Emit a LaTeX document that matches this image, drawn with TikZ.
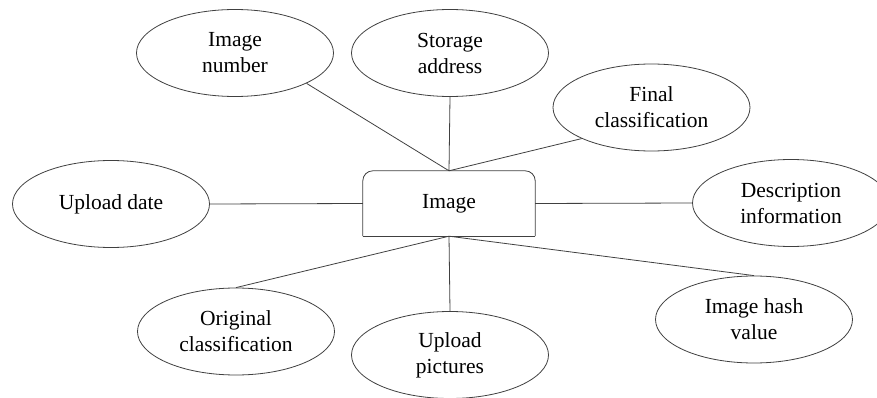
\documentclass[tikz,border=0pt]{standalone}
\usepackage{fontspec}
\setmainfont{Liberation Serif}
\usetikzlibrary{shapes.geometric}

\begin{document}
\begin{tikzpicture}[x=1pt, y=-1pt,
    attr/.style={ellipse, draw=black!75, line width=0.8pt, minimum width=197pt, minimum height=87pt, inner sep=0pt, align=center, font=\fontsize{21.5}{26}\selectfont},
    entity/.style={minimum width=172pt, minimum height=65pt, inner sep=0pt, font=\fontsize{21.5}{26}\selectfont},
    edge/.style={draw=black!75, line width=0.8pt}]
            \useasboundingbox (0,0) rectangle (877,398);
            % Entity
            \node[entity] (img) at (449,203.5) {Image};
            \draw[edge, rounded corners=10pt] (img.south west) -- (img.north west) -- (img.north east) -- (img.south east);
            \draw[edge] (img.south west) -- (img.south east);
            % Attributes
            \node[attr] (num) at (235,53) {Image\\number};
            \node[attr] (addr) at (450,53) {Storage\\address};
            \node[attr] (fin) at (651.5,107.5) {Final\\classification};
            \node[attr] (date) at (111,204) {Upload date};
            \node[attr] (desc) at (791,203) {Description\\information};
            \node[attr] (orig) at (236,331.5) {Original\\classification};
            \node[attr] (pic) at (450,355) {Upload\\pictures};
            \node[attr] (hash) at (754,319.5) {Image hash\\value};
            % Edges
            \draw[edge] (num.-23) -- (img.north) (addr.south) -- (img.north) (fin.204) -- (img.north);
            \draw[edge] (date.east) -- (img.west) (img.east) -- (desc.west);
            \draw[edge] (img.south) -- (orig.north) (img.south) -- (pic.north) (img.south) -- (hash.north);
\end{tikzpicture}
\end{document}
